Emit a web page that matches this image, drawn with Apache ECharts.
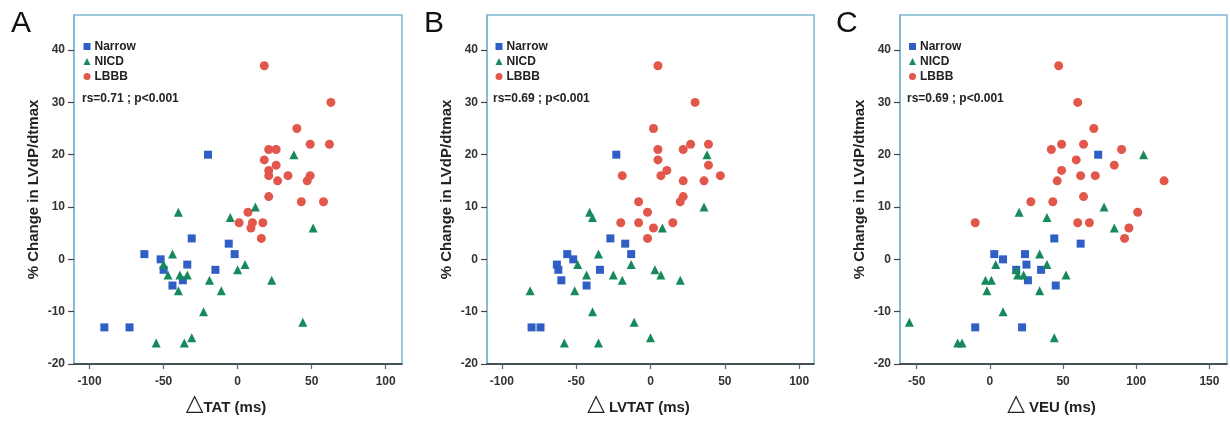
<!DOCTYPE html>
<html>
<head>
<meta charset="utf-8">
<script src="https://cdn.jsdelivr.net/npm/echarts@6/dist/echarts.min.js"></script>
<style>html,body{margin:0;padding:0;background:#fff;}#main{width:1230px;height:421px;}</style>
</head>
<body>
<div id="main"></div>
<script>
// ---- Data (x, y) ----
const groups = ['Narrow', 'NICD', 'LBBB'];

// Panel A: ΔTAT
const tatNarrow = [[-20,20],[-31,4],[-63,1],[-52,0],[-50,-2],[-34,-1],[-37,-4],[-44,-5],[-15,-2],[-6,3],[-2,1],[-90,-13],[-73,-13]];
const tatNICD = [[38,20],[12,10],[-5,8],[-40,9],[51,6],[-44,1],[-50,-1],[-47,-3],[-39,-3],[-34,-3],[-40,-6],[-19,-4],[0,-2],[5,-1],[-11,-6],[23,-4],[-23,-10],[44,-12],[-55,-16],[-36,-16],[-31,-15]];
const tatLBBB = [[18,37],[63,30],[40,25],[49,22],[62,22],[21,21],[26,21],[18,19],[21,17],[26,18],[21,16],[27,15],[34,16],[47,15],[49,16],[21,12],[43,11],[58,11],[7,9],[1,7],[10,7],[9,6],[17,7],[16,4]];

// Panel B: ΔLVTAT
const lvtatNarrow = [[-23,20],[-27,4],[-17,3],[-13,1],[-56,1],[-52,0],[-63,-1],[-62,-2],[-60,-4],[-34,-2],[-43,-5],[-80,-13],[-74,-13]];
const lvtatNICD = [[38,20],[36,10],[-41,9],[-39,8],[8,6],[-35,1],[-49,-1],[-13,-1],[-43,-3],[-25,-3],[-19,-4],[3,-2],[7,-3],[20,-4],[-81,-6],[-51,-6],[-39,-10],[-11,-12],[0,-15],[-58,-16],[-35,-16]];
const lvtatLBBB = [[5,37],[30,30],[2,25],[5,21],[27,22],[22,21],[39,22],[5,19],[39,18],[7,16],[11,17],[-19,16],[47,16],[22,15],[36,15],[20,11],[22,12],[-8,11],[-2,9],[-20,7],[-8,7],[2,6],[15,7],[-2,4]];

// Panel C: ΔVEU
const veuNarrow = [[74,20],[44,4],[62,3],[3,1],[9,0],[24,1],[25,-1],[35,-2],[26,-4],[45,-5],[18,-2],[-10,-13],[22,-13]];
const veuNICD = [[105,20],[78,10],[20,9],[39,8],[85,6],[34,1],[4,-1],[39,-1],[-3,-4],[1,-4],[18,-2],[19,-3],[23,-3],[52,-3],[-2,-6],[34,-6],[9,-10],[-55,-12],[44,-15],[-22,-16],[-19,-16]];
const veuLBBB = [[47,37],[60,30],[71,25],[42,21],[49,22],[64,22],[90,21],[59,19],[85,18],[49,17],[62,16],[72,16],[46,15],[119,15],[64,12],[28,11],[43,11],[101,9],[-10,7],[60,7],[68,7],[95,6],[92,4]];

// Tick labels
const yTicks = [-20, -10, 0, 10, 20, 30, 40];
const xTicksAB = [-100, -50, 0, 50, 100];
const xTicksC = [-50, 0, 50, 100, 150];

const panelLetters = ['A', 'B', 'C'];
const statTexts = ['rs=0.71 ; p<0.001', 'rs=0.69 ; p<0.001', 'rs=0.69 ; p<0.001'];
const xNames = ['TAT (ms)', ' LVTAT (ms)', ' VEU (ms)'];
const yName = '% Change in LVdP/dtmax';

// ---- Layout / style ----
const panels = [
  {left: 74, width: 328, xmin: -110.5, xmax: 111, ticks: xTicksAB, data: [tatNarrow, tatNICD, tatLBBB], letterX: 11, legendX: 83.5, statX: 82},
  {left: 487, width: 327, xmin: -110, xmax: 110, ticks: xTicksAB, data: [lvtatNarrow, lvtatNICD, lvtatLBBB], letterX: 424, legendX: 495.5, statX: 493},
  {left: 900, width: 327, xmin: -61.4, xmax: 162, ticks: xTicksC, data: [veuNarrow, veuNICD, veuLBBB], letterX: 836, legendX: 909, statX: 907}
];
const TOP = 15, HEIGHT = 354;
const colors = ['#2f5fc4', '#178a5c', '#e2574b'];
const symbols = ['rect', 'triangle', 'circle'];
const sizes = [8, 9, 9];
const frameColor = '#7db6d4';
const fontFam = 'Liberation Sans, Arial, sans-serif';

const grid = [], xAxis = [], yAxis = [], series = [], legend = [], title = [];
panels.forEach((p, i) => {
  grid.push({left: p.left, top: TOP, width: p.width, height: HEIGHT, show: true, borderColor: frameColor, borderWidth: 1.5, backgroundColor: 'transparent'});
  xAxis.push({
    type: 'value', gridIndex: i, min: p.xmin, max: p.xmax,
    name: '{t|△}{s|' + xNames[i] + '}', nameLocation: 'middle', nameGap: 29,
    nameTextStyle: {padding: [0, 24, 0, 0], rich: {
      t: {fontFamily: 'DejaVu Sans', fontSize: 23, color: '#222', verticalAlign: 'bottom'},
      s: {fontFamily: fontFam, fontSize: 15, fontWeight: 'bold', color: '#222', verticalAlign: 'bottom', padding: [0, 0, 1, 0]}
    }},
    axisLine: {show: true, onZero: false, lineStyle: {color: '#2a2a2a', width: 1.5}},
    axisTick: {show: true, length: 5, customValues: p.ticks, lineStyle: {color: '#4a6a80', width: 1.2}},
    axisLabel: {customValues: p.ticks, margin: 12, fontFamily: fontFam, fontSize: 12, fontWeight: 'bold', color: '#333'},
    splitLine: {show: false}
  });
  yAxis.push({
    type: 'value', gridIndex: i, min: -20, max: 46.7,
    name: yName, nameLocation: 'middle', nameGap: 33, nameRotate: 90,
    nameTextStyle: {fontFamily: fontFam, fontSize: 15, fontWeight: 'bold', color: '#222'},
    axisLine: {show: true, onZero: false, lineStyle: {color: frameColor, width: 1.5}},
    axisTick: {show: true, length: 6, customValues: yTicks, lineStyle: {color: '#444', width: 1.2}},
    axisLabel: {customValues: yTicks, margin: 9, fontFamily: fontFam, fontSize: 12, fontWeight: 'bold', color: '#333'},
    splitLine: {show: false}
  });
  groups.forEach((g, k) => {
    series.push({
      type: 'scatter', name: g, xAxisIndex: i, yAxisIndex: i,
      data: p.data[k], symbol: symbols[k], symbolSize: sizes[k],
      itemStyle: {color: colors[k], opacity: 1},
      z: k === 1 ? 4 : 3
    });
  });
  legend.push({
    orient: 'vertical', left: p.legendX, top: 40, padding: 0, itemGap: 2,
    itemWidth: 7, itemHeight: 7, selectedMode: false,
    textStyle: {fontFamily: fontFam, fontSize: 12, fontWeight: 'bold', color: '#222', lineHeight: 13, padding: [0, 0, 0, -1]},
    data: groups.map((g, k) => ({name: g, icon: symbols[k], itemStyle: {color: colors[k]}}))
  });
  title.push({text: panelLetters[i], left: p.letterX, top: 9, padding: 0,
    textStyle: {fontFamily: fontFam, fontSize: 30, fontWeight: 'normal', color: '#111'}});
  title.push({text: statTexts[i], left: p.statX, top: 93, padding: 0,
    textStyle: {fontFamily: fontFam, fontSize: 12, fontWeight: 'bold', color: '#222'}});
});

const chart = echarts.init(document.getElementById('main'), null, {renderer: 'canvas'});
chart.setOption({
  backgroundColor: '#ffffff',
  animation: false,
  title, legend, grid, xAxis, yAxis, series
});
</script>
</body>
</html>
